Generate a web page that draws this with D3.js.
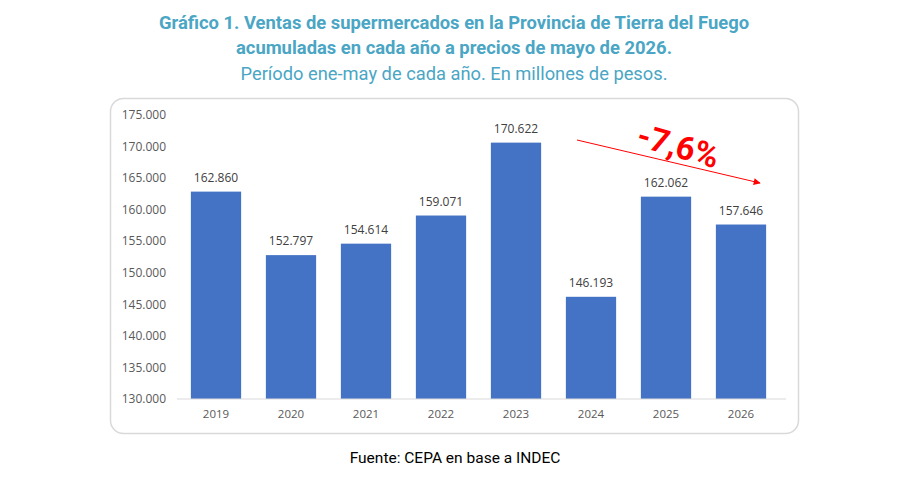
<!DOCTYPE html>
<html lang="es">
<head>
<meta charset="UTF-8">
<script src="https://cdn.jsdelivr.net/npm/d3@7"></script>
<style>
  body { margin: 0; background: #fff; }
  svg { display: block; }
</style>
</head>
<body>
<div id="chart"></div>
<script>
  // datos
  const years = ["2019", "2020", "2021", "2022", "2023", "2024", "2025", "2026"];
  const ventas = [162860, 152797, 154614, 159071, 170622, 146193, 162062, 157646];
  const yTicks = [130000, 135000, 140000, 145000, 150000, 155000, 160000, 165000, 170000, 175000];
  const titleLines = [
    "Gráfico 1. Ventas de supermercados en la Provincia de Tierra del Fuego",
    "acumuladas en cada año a precios de mayo de 2026."
  ];
  const subtitle = "Período ene-may de cada año. En millones de pesos.";
  const variacion = "-7,6%";
  const fuente = "Fuente: CEPA en base a INDEC";

  const W = 909, H = 484;
  const fmt = d3.formatLocale({ decimal: ",", thousands: ".", grouping: [3], currency: ["$", ""] }).format(",d");

  const svg = d3.select("#chart").append("svg")
    .attr("width", W)
    .attr("height", H);

  // titulo
  svg.selectAll("text.title")
    .data(titleLines)
    .enter()
    .append("text")
    .attr("x", 454)
    .attr("y", (d, i) => 28.5 + i * 25)
    .attr("text-anchor", "middle")
    .style("font-family", "Roboto, sans-serif")
    .style("font-weight", "bold")
    .style("font-size", "18.4px")
    .style("fill", "#4aa6c4")
    .text(d => d);

  svg.append("text")
    .attr("x", 454)
    .attr("y", 79.5)
    .attr("text-anchor", "middle")
    .style("font-family", "Roboto, sans-serif")
    .style("font-size", "18.3px")
    .style("fill", "#4aa6c4")
    .text(subtitle);

  // tarjeta
  svg.append("rect")
    .attr("x", 110.5)
    .attr("y", 98.5)
    .attr("width", 688)
    .attr("height", 335)
    .attr("rx", 13)
    .style("fill", "#fff")
    .style("stroke", "#d9d9d9")
    .style("stroke-width", 1.5);

  const x = d3.scaleBand()
    .domain(years)
    .range([178.5, 778.5])
    .paddingInner(0.33)
    .paddingOuter(0.165);

  const y = d3.scaleLinear()
    .domain([130000, 175000])
    .range([399, 115]);

  // eje y (solo etiquetas)
  svg.append("g")
    .selectAll("text")
    .data(yTicks)
    .enter()
    .append("text")
    .attr("x", 166)
    .attr("y", d => y(d))
    .attr("dy", "0.35em")
    .attr("text-anchor", "end")
    .style("font-family", "'Open Sans', 'DejaVu Sans', sans-serif")
    .style("font-size", "12px")
    .style("fill", "#595959")
    .text(d => fmt(d));

  // barras
  svg.selectAll("rect.bar")
    .data(ventas)
    .enter()
    .append("rect")
    .attr("class", "bar")
    .attr("x", (d, i) => x(years[i]))
    .attr("y", d => y(d))
    .attr("width", x.bandwidth())
    .attr("height", d => y(130000) - y(d))
    .style("fill", "#4472c4");

  // valores
  svg.selectAll("text.val")
    .data(ventas)
    .enter()
    .append("text")
    .attr("class", "val")
    .attr("x", (d, i) => x(years[i]) + x.bandwidth() / 2)
    .attr("y", d => y(d) - 10)
    .attr("text-anchor", "middle")
    .style("font-family", "'Open Sans', 'DejaVu Sans', sans-serif")
    .style("font-size", "12px")
    .style("fill", "#404040")
    .text(d => fmt(d));

  // eje x
  const xAxis = svg.append("g")
    .attr("transform", `translate(0,${y(130000)})`)
    .call(d3.axisBottom(x).tickSize(0).tickPadding(11));
  xAxis.select(".domain").attr("d", "M177,0H786").style("stroke", "#d9d9d9");
  xAxis.selectAll("text")
    .style("font-family", "'Open Sans', 'DejaVu Sans', sans-serif")
    .style("font-size", "11.5px")
    .style("fill", "#595959");

  // flecha de variacion
  const defs = svg.append("defs");
  defs.append("marker")
    .attr("id", "arrow")
    .attr("viewBox", "0 0 10 10")
    .attr("refX", 9)
    .attr("refY", 5)
    .attr("markerWidth", 9)
    .attr("markerHeight", 7)
    .attr("markerUnits", "userSpaceOnUse")
    .attr("orient", "auto")
    .append("path")
    .attr("d", "M0,0L10,5L0,10z")
    .style("fill", "#ff0000");

  svg.append("line")
    .attr("x1", 577)
    .attr("y1", 140)
    .attr("x2", 760)
    .attr("y2", 183)
    .style("stroke", "#ff0000")
    .style("stroke-width", 1)
    .attr("marker-end", "url(#arrow)");

  svg.append("text")
    .attr("transform", "translate(675,157) rotate(16)")
    .attr("text-anchor", "middle")
    .style("font-family", "Roboto, sans-serif")
    .style("font-weight", "bold")
    .style("font-size", "33px")
    .style("fill", "#ff0000")
    .text(variacion);

  // fuente
  svg.append("text")
    .attr("x", 455)
    .attr("y", 463)
    .attr("text-anchor", "middle")
    .style("font-family", "Roboto, sans-serif")
    .style("font-size", "15.5px")
    .style("fill", "#000")
    .text(fuente);
</script>
</body>
</html>
